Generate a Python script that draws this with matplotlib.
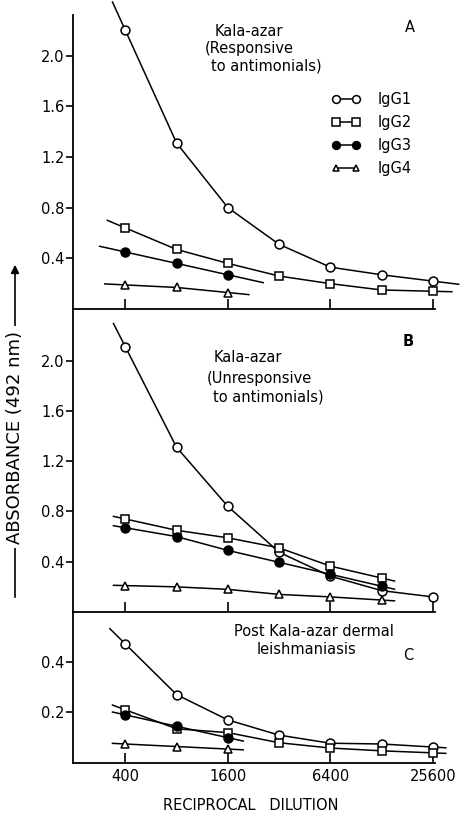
import numpy as np
import matplotlib
matplotlib.use("Agg")
import matplotlib.pyplot as plt
from matplotlib.lines import Line2D

plt.rcParams['font.family'] = ['DejaVu Sans']

# ---------------- data ----------------
dilutions = [400, 800, 1600, 3200, 6400, 12800, 25600]
xtick_vals = [400, 1600, 6400, 25600]
xtick_labels = ["400", "1600", "6400", "25600"]
series_names = ["IgG1", "IgG2", "IgG3", "IgG4"]

# Panel A: Kala-azar (responsive to antimonials)
a_igg1 = [2.20, 1.31, 0.80, 0.51, 0.33, 0.27, 0.22]
a_igg2 = [0.64, 0.47, 0.36, 0.26, 0.20, 0.15, 0.14]
a_igg3 = [0.45, 0.36, 0.27]
a_igg4 = [0.19, 0.17, 0.13]

# Panel B: Kala-azar (unresponsive to antimonials)
b_igg1 = [2.11, 1.31, 0.84, 0.475, 0.285, 0.17, 0.12]
b_igg2 = [0.74, 0.65, 0.59, 0.51, 0.365, 0.27]
b_igg3 = [0.67, 0.60, 0.49, 0.395, 0.30, 0.205]
b_igg4 = [0.21, 0.20, 0.18, 0.14, 0.12, 0.095]

# Panel C: Post kala-azar dermal leishmaniasis
c_igg1 = [0.47, 0.27, 0.17, 0.11, 0.078, 0.075, 0.063]
c_igg2 = [0.21, 0.135, 0.12, 0.08, 0.059, 0.048, 0.04]
c_igg3 = [0.19, 0.145, 0.10]
c_igg4 = [0.075, 0.065, 0.055]

yticks_ab = [0.4, 0.8, 1.2, 1.6, 2.0]
yticks_c = [0.2, 0.4]

# ---------------- styles ----------------
styles = {
    "IgG1": dict(marker='o', mfc='white', ms=6.4),
    "IgG2": dict(marker='s', mfc='white', ms=6.0),
    "IgG3": dict(marker='o', mfc='black', ms=6.4),
    "IgG4": dict(marker='^', mfc='white', ms=5.2),
}
# line extension beyond first/last point, in doublings (left, right)
ext = {
    "A": {"IgG1": (0.25, 0.5), "IgG2": (0.35, 0.37), "IgG3": (0.5, 0.69), "IgG4": (0.4, 0.41)},
    "B": {"IgG1": (0.23, 0.0), "IgG2": (0.23, 0.25), "IgG3": (0.23, 0.25), "IgG4": (0.23, 0.25)},
    "C": {"IgG1": (0.3, 0.25), "IgG2": (0.25, 0.25), "IgG3": (0.25, 0.3), "IgG4": (0.25, 0.3)},
}

W, H = 466, 817
fig = plt.figure(figsize=(W / 100, H / 100), dpi=100)

def frac_rect(left, top, right, bottom):
    return [left / W, 1 - bottom / H, (right - left) / W, (bottom - top) / H]

axA = fig.add_axes(frac_rect(73, 15, 435, 309))
axB = fig.add_axes(frac_rect(73, 309, 435, 612))
axC = fig.add_axes(frac_rect(73, 612, 435, 763))

xlim = (400 / 2 ** (52 / 51), 25600 * 2 ** (2 / 51))

def draw_series(ax, vals, name, e):
    x = np.array(dilutions[:len(vals)], dtype=float)
    y = np.array(vals, dtype=float)
    lx = np.log2(x)
    # linear extension in log2 space from end segments
    sl = (y[1] - y[0]) / (lx[1] - lx[0])
    sr = (y[-1] - y[-2]) / (lx[-1] - lx[-2])
    xl = 2 ** (lx[0] - e[0]); yl = y[0] - sl * e[0]
    xr = 2 ** (lx[-1] + e[1]); yr = y[-1] + sr * e[1]
    xx = np.concatenate([[xl], x, [xr]])
    yy = np.concatenate([[yl], y, [yr]])
    ax.plot(xx, yy, color='black', lw=1.1, clip_on=False, zorder=2)
    st = styles[name]
    ax.plot(x, y, ls='none', marker=st['marker'], mfc=st['mfc'], mec='black',
            ms=st['ms'], mew=1.1, clip_on=False, zorder=3)

panels = [
    (axA, "A", [a_igg1, a_igg2, a_igg3, a_igg4], (0, 2.32), yticks_ab),
    (axB, "B", [b_igg1, b_igg2, b_igg3, b_igg4], (0, 2.41), yticks_ab),
    (axC, "C", [c_igg1, c_igg2, c_igg3, c_igg4], (0, 0.596), yticks_c),
]

for ax, key, data, ylim, yt in panels:
    for name, vals in zip(series_names, data):
        draw_series(ax, vals, name, ext[key][name])
    ax.set_xscale('log', base=2)
    ax.set_xlim(*xlim)
    ax.set_ylim(*ylim)
    ax.set_xticks(xtick_vals)
    ax.xaxis.set_minor_locator(matplotlib.ticker.NullLocator())
    ax.set_yticks(yt)
    ax.set_yticklabels([f"{v:.1f}" for v in yt])
    ax.spines['top'].set_visible(False)
    ax.spines['right'].set_visible(False)
    for s in ('left', 'bottom'):
        ax.spines[s].set_linewidth(1.3)
    ax.tick_params(axis='x', direction='in', length=7, width=1.2, labelsize=10.5, pad=4)
    ax.tick_params(axis='y', direction='out', length=5, width=1.2, labelsize=10.5, pad=1)
    ax.patch.set_alpha(0)
    if ax is not axC:
        ax.set_xticklabels([])
    else:
        ax.set_xticklabels(xtick_labels)

def ftext(x, y, s, **kw):
    fig.text(x / W, 1 - y / H, s, va='center', **kw)

fs = 10.5
# Panel A texts
ftext(215, 31, "Kala-azar", fontsize=fs)
ftext(205, 49, "(Responsive", fontsize=fs)
ftext(211, 66, "to antimonials)", fontsize=fs)
ftext(405, 28, "A", fontsize=fs)
# Panel B texts
ftext(214, 357, "Kala-azar", fontsize=fs)
ftext(207, 378, "(Unresponsive", fontsize=fs)
ftext(213, 397, "to antimonials)", fontsize=fs)
ftext(403, 341, "B", fontsize=fs, fontweight='bold')
# Panel C texts
ftext(314, 632, "Post Kala-azar dermal", fontsize=fs, ha='center')
ftext(307, 649, "leishmaniasis", fontsize=fs, ha='center')
ftext(403, 656, "C", fontsize=fs)

# legend
handles = [Line2D([], [], color='black', lw=1.1, marker=styles[n]['marker'],
                  mfc=styles[n]['mfc'], mec='black', ms=styles[n]['ms'] - 0.8, mew=1.1)
           for n in series_names]
leg = axA.legend(handles, series_names, loc='upper left', frameon=False,
                 bbox_to_anchor=(324 / W, 1 - 85 / H), bbox_transform=fig.transFigure,
                 fontsize=fs, handlelength=2.0, handletextpad=1.2,
                 labelspacing=0.55, borderpad=0, numpoints=2)

# axis labels
ftext(251, 806, "RECIPROCAL   DILUTION", fontsize=10.5, ha='center')
fig.add_artist(matplotlib.patches.FancyArrowPatch(
    (15 / W, 1 - 600 / H), (15 / W, 1 - 262 / H), transform=fig.transFigure,
    arrowstyle='-|>', mutation_scale=12, lw=1.2, color='black'))
fig.text(15 / W, 1 - 437 / H, "ABSORBANCE (492 nm)", rotation=90, fontsize=13,
         ha='center', va='center',
         bbox=dict(facecolor='white', edgecolor='none', pad=3))

fig.savefig("out.png", dpi=100, facecolor='white')
